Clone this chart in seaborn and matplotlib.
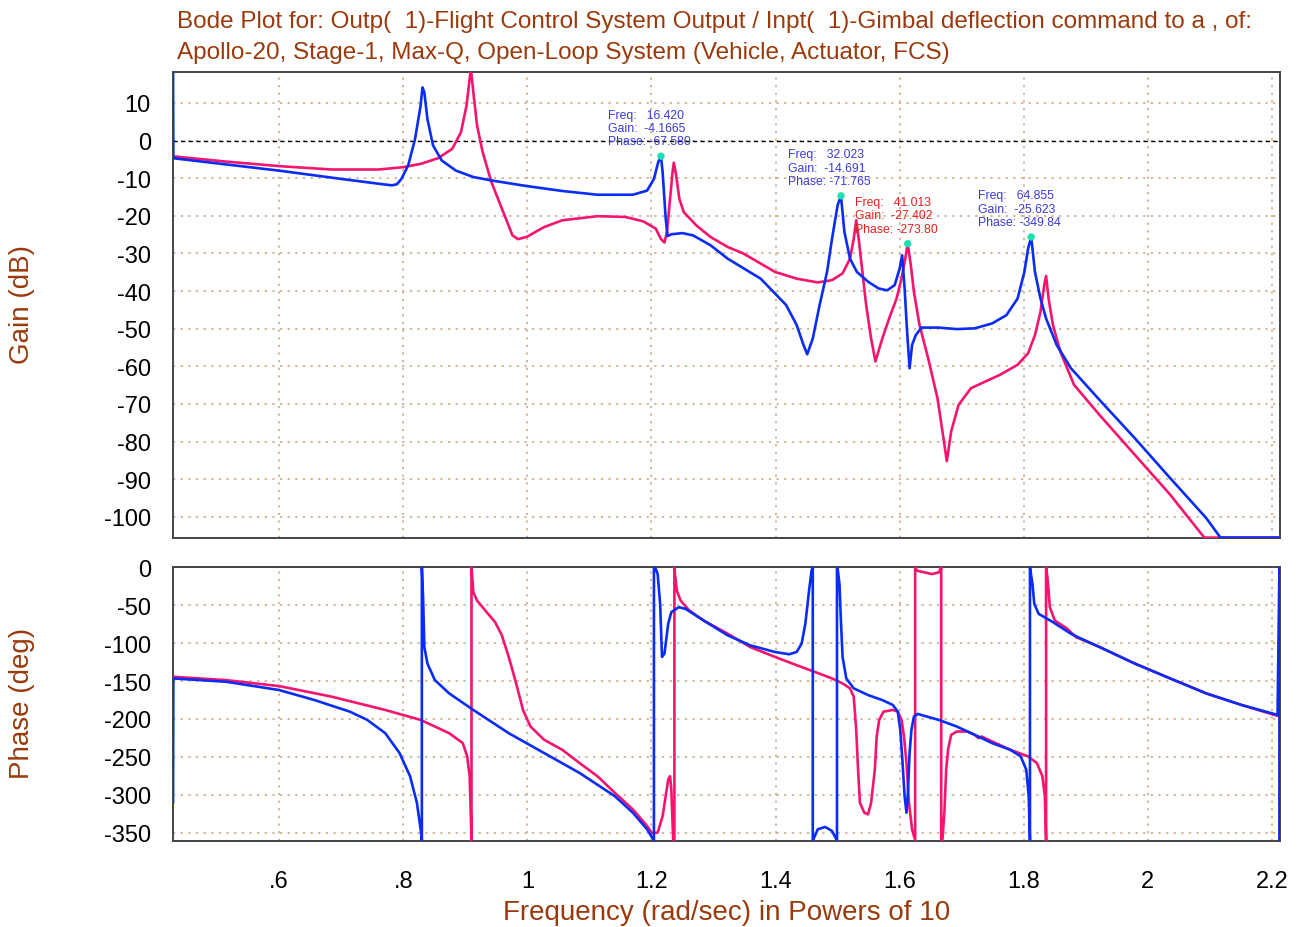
import matplotlib
matplotlib.use("Agg")
import matplotlib.pyplot as plt
import numpy as np
import pandas as pd
import seaborn as sns

# ---------------- data (x = log10 of frequency in rad/sec) ----------------
blue_gain_x = [0.429, 0.4295, 0.600, 0.700, 0.771, 0.782, 0.790, 0.797, 0.808, 0.819, 0.828, 0.831,
               0.834, 0.839, 0.848, 0.862, 0.885, 0.913, 0.942, 0.999, 1.056, 1.113,
               1.170, 1.193, 1.204, 1.211, 1.2154, 1.218, 1.223, 1.226, 1.232, 1.250,
               1.267, 1.295, 1.323, 1.376, 1.417, 1.434, 1.445, 1.451, 1.460, 1.471,
               1.483, 1.491, 1.500, 1.5054, 1.511, 1.520, 1.531, 1.549, 1.566, 1.580,
               1.592, 1.600, 1.604, 1.608, 1.612, 1.616, 1.620, 1.626, 1.635, 1.663,
               1.692, 1.721, 1.749, 1.772, 1.790, 1.801, 1.807, 1.8119, 1.814, 1.818,
               1.827, 1.836, 1.853, 1.876, 1.922, 1.979, 2.036, 2.094, 2.117, 2.213]
blue_gain_db = [20, -4.7, -8.0, -10.2, -11.7, -11.9, -11.6, -10.2, -6.6, 0.4, 9.3, 14.1,
                12.8, 5.7, -1.3, -5.3, -8.0, -9.7, -10.6, -12.1, -13.4, -14.4,
                -14.4, -13.3, -10.2, -5.7, -4.17, -8.4, -20.8, -25.4, -24.9, -24.6,
                -25.2, -27.8, -31.4, -36.7, -43.7, -49.0, -54.3, -56.8, -52.6, -43.7,
                -34.9, -26.1, -17.2, -14.69, -24.3, -31.4, -34.9, -37.5, -39.3, -39.8,
                -38.4, -34.0, -30.5, -39.3, -50.8, -60.5, -54.3, -51.7, -49.7, -49.7,
                -50.1, -49.9, -48.6, -46.4, -42.0, -34.9, -28.7, -25.62, -28.7, -34.9,
                -42.0, -47.3, -54.3, -60.5, -68.9, -79.1, -89.7, -100.3, -105.5, -105.5]

pink_gain_x = [0.429, 0.515, 0.600, 0.685, 0.760, 0.799, 0.828, 0.856, 0.879, 0.893,
               0.902, 0.907, 0.909, 0.913, 0.919, 0.928, 0.942, 0.959, 0.976, 0.985,
               0.999, 1.027, 1.056, 1.113, 1.158, 1.187, 1.207, 1.215, 1.221, 1.225,
               1.230, 1.234, 1.236, 1.239, 1.245, 1.252, 1.272, 1.295, 1.323, 1.348,
               1.399, 1.434, 1.468, 1.491, 1.508, 1.520, 1.526, 1.530, 1.534, 1.540,
               1.546, 1.554, 1.561, 1.572, 1.583, 1.595, 1.603, 1.609, 1.6129, 1.618,
               1.623, 1.632, 1.646, 1.661, 1.669, 1.676, 1.683, 1.695, 1.715, 1.732,
               1.761, 1.790, 1.807, 1.818, 1.827, 1.833, 1.836, 1.840, 1.847, 1.859,
               1.881, 1.922, 1.979, 2.036, 2.091, 2.213]
pink_gain_db = [-4.2, -5.6, -6.8, -7.7, -7.7, -7.1, -6.2, -4.7, -2.2, 2.2,
                9.3, 16.3, 19.0, 12.8, 4.0, -3.1, -11.0, -18.1, -25.2, -26.2,
                -25.6, -23.0, -21.2, -20.1, -20.3, -21.5, -23.4, -26.1, -27.1, -24.3,
                -15.5, -8.4, -5.9, -8.4, -15.5, -19.0, -22.5, -25.6, -28.3, -30.0,
                -34.9, -36.7, -37.7, -37.1, -35.3, -31.4, -26.1, -21.2, -26.1, -34.9,
                -43.7, -52.6, -58.7, -52.6, -47.3, -42.0, -36.7, -31.4, -27.40, -33.1,
                -40.2, -49.0, -57.9, -68.5, -77.3, -85.2, -77.3, -70.2, -65.8, -64.5,
                -62.3, -59.6, -56.5, -51.7, -45.5, -38.4, -36.0, -42.0, -49.0, -56.1,
                -64.9, -72.9, -83.5, -94.1, -105.5, -105.5]

blue_phase_x = [0.429, 0.4295, 0.515, 0.600, 0.657, 0.714, 0.742, 0.771, 0.794, 0.811,
                0.822, 0.828, 0.830, 0.830, 0.832, 0.834, 0.839, 0.851, 0.874, 0.913,
                0.970, 1.027, 1.084, 1.141, 1.170, 1.193, 1.201, 1.204, 1.204, 1.207,
                1.210, 1.214, 1.217, 1.221, 1.227, 1.232, 1.244, 1.255, 1.284, 1.323,
                1.359, 1.399, 1.422, 1.434, 1.442, 1.448, 1.454, 1.458, 1.460, 1.460,
                1.461, 1.468, 1.480, 1.491, 1.498, 1.499, 1.499, 1.500, 1.503, 1.5054,
                1.508, 1.514, 1.526, 1.549, 1.572, 1.589, 1.597, 1.601, 1.604, 1.608,
                1.611, 1.613, 1.616, 1.619, 1.623, 1.629, 1.640, 1.663, 1.692, 1.721,
                1.749, 1.778, 1.795, 1.804, 1.808, 1.810, 1.810, 1.814, 1.817, 1.824,
                1.847, 1.876, 1.887, 1.922, 1.979, 2.036, 2.094, 2.151, 2.209, 2.212,
                2.212]
blue_phase_deg = [-311, -146.6, -151.0, -161.9, -175.1, -190.4, -201.3, -218.8, -245.0, -275.6,
                  -310.6, -345.6, -360, 0, -40, -105, -127, -148.8, -166.3, -188.2,
                  -218.8, -245.0, -271.2, -301.9, -323.7, -345.6, -356.5, -360, 0, -2,
                  -8.9, -48.3, -118.2, -113.8, -74.5, -59.2, -52.6, -54.8, -70.1, -89.8,
                  -102.9, -111.7, -114.7, -111.7, -100.7, -74.5, -30.8, -4.5, 0, -360,
                  -358.7, -345.6, -342.5, -347.8, -358.7, -360, 0, -1, -22, -71.8,
                  -118.2, -146.6, -159.7, -168.5, -175.1, -181.6, -190.4, -214.4, -249.4, -301.9,
                  -323.7, -301.9, -245.0, -214.4, -196.9, -193.4, -196.0, -201.3, -210.0, -221.0,
                  -231.9, -240.6, -249.4, -266.9, -301.9, -360, 0, -22, -48.3, -61.4,
                  -72.3, -87.6, -92.0, -105.1, -127.0, -146.6, -166.3, -181.6, -194.7, 0,
                  -360]

pink_phase_x = [0.429, 0.515, 0.600, 0.685, 0.771, 0.828, 0.874, 0.896, 0.903, 0.907,
                0.908, 0.910, 0.910, 0.912, 0.913, 0.919, 0.930, 0.948, 0.959, 0.970,
                0.982, 0.993, 1.005, 1.027, 1.056, 1.084, 1.113, 1.141, 1.170, 1.193,
                1.201, 1.210, 1.218, 1.227, 1.230, 1.232, 1.235, 1.237, 1.237, 1.238,
                1.241, 1.247, 1.261, 1.284, 1.323, 1.359, 1.399, 1.434, 1.463, 1.491,
                1.508, 1.520, 1.526, 1.530, 1.533, 1.536, 1.543, 1.549, 1.554, 1.560,
                1.563, 1.567, 1.574, 1.589, 1.597, 1.603, 1.607, 1.611, 1.615, 1.620,
                1.625, 1.625, 1.628, 1.640, 1.652, 1.663, 1.667, 1.667, 1.669, 1.672,
                1.675, 1.678, 1.683, 1.692, 1.709, 1.721, 1.727, 1.732, 1.749, 1.778,
                1.807, 1.821, 1.830, 1.834, 1.836, 1.836, 1.838, 1.840, 1.842, 1.850,
                1.870, 1.884, 1.922, 1.979, 2.036, 2.094, 2.151, 2.209]
pink_phase_deg = [-144.4, -148.8, -156.7, -170.7, -188.2, -201.3, -218.8, -231.9, -249.4, -275.6,
                  -301.9, -360, 0, -22, -33, -43.9, -54.8, -72.3, -89.8, -118.2,
                  -153.2, -188.2, -210.0, -227.5, -240.6, -258.1, -275.6, -297.5, -319.3, -341.2,
                  -350.8, -350.0, -328.1, -280.0, -275.6, -293.1, -358.7, -360, 0, -10,
                  -30.8, -43.9, -57.0, -70.1, -87.6, -105.1, -118.2, -129.1, -137.9, -146.6,
                  -153.2, -159.7, -170.7, -214.4, -266.9, -310.6, -323.7, -325.9, -310.6, -266.9,
                  -223.2, -201.3, -190.4, -188.2, -190.4, -201.3, -223.2, -258.1, -310.6, -345.6,
                  -360, 0, -4.5, -6.7, -8.9, -6.7, 0, -360, -358.7, -323.7,
                  -266.9, -240.6, -221.0, -216.6, -216.6, -221.0, -225.3, -223.2, -229.7, -240.6,
                  -249.4, -258.1, -275.6, -301.9, -360, 0, -12, -30.8, -52.6, -70.1,
                  -81.0, -92.0, -105.1, -127.0, -146.6, -166.3, -181.6, -196.0]

marker_freq = [16.420, 32.023, 41.013, 64.855]
marker_gain = [-4.1665, -14.691, -27.402, -25.623]
marker_phase = [-67.580, -71.765, -273.80, -349.84]
marker_series = ["blue", "blue", "pink", "blue"]

gain_ticks = [10, 0, -10, -20, -30, -40, -50, -60, -70, -80, -90, -100]
phase_ticks = [0, -50, -100, -150, -200, -250, -300, -350]
x_ticks = [0.6, 0.8, 1.0, 1.2, 1.4, 1.6, 1.8, 2.0, 2.2]
x_tick_labels = [".6", ".8", "1", "1.2", "1.4", "1.6", "1.8", "2", "2.2"]

title_lines = ["Bode Plot for: Outp(  1)-Flight Control System Output / Inpt(  1)-Gimbal deflection command to a , of:",
               "Apollo-20, Stage-1, Max-Q, Open-Loop System (Vehicle, Actuator, FCS)"]

# ---------------- style ----------------
sns.set_theme(style="white")
plt.rcParams["font.family"] = ["Liberation Sans", "DejaVu Sans"]

BLUE = "#0a2cf5"
PINK = "#f5156e"
BROWN = "#9a3a0c"
GRID = "#c4a684"
palette = {"pink": PINK, "blue": BLUE}
text_col = {"blue": "#3a3ad8", "pink": "#e2231a"}

fig = plt.figure(figsize=(12.99, 9.28), dpi=100)
ax1 = fig.add_axes([0.1332, 0.4192, 0.8522, 0.5021])
ax2 = fig.add_axes([0.1332, 0.0927, 0.8522, 0.2953])

df_gain = pd.concat([
    pd.DataFrame({"logf": pink_gain_x, "val": pink_gain_db, "series": "pink"}),
    pd.DataFrame({"logf": blue_gain_x, "val": blue_gain_db, "series": "blue"}),
], ignore_index=True)
df_phase = pd.concat([
    pd.DataFrame({"logf": pink_phase_x, "val": pink_phase_deg, "series": "pink"}),
    pd.DataFrame({"logf": blue_phase_x, "val": blue_phase_deg, "series": "blue"}),
], ignore_index=True)

for ax, df in ((ax1, df_gain), (ax2, df_phase)):
    sns.lineplot(data=df, x="logf", y="val", hue="series", hue_order=["pink", "blue"],
                 palette=palette, sort=False, estimator=None, legend=False,
                 linewidth=1.9, ax=ax, zorder=3)
    ax.set_xlim(0.429, 2.213)
    ax.set_xticks(x_ticks)
    ax.set_xlabel("")
    ax.set_ylabel("")
    ax.grid(True, linestyle=(0, (1.5, 3.5)), color=GRID, linewidth=1.1, zorder=0)
    ax.tick_params(axis="y", direction="in", length=14, width=1.2, color="black",
                   labelsize=17, pad=16, labelcolor="black")
    ax.tick_params(axis="x", direction="in", length=5, width=1.2, color="black",
                   labelsize=17, pad=21, labelcolor="black")
    for s in ax.spines.values():
        s.set_color("#444444")
        s.set_linewidth(1.4)
        s.set_visible(True)

ax1.set_ylim(-105.6, 18.2)
ax1.set_yticks(gain_ticks)
ax1.set_yticklabels([str(t) for t in gain_ticks])
ax1.tick_params(axis="x", labelbottom=False)
ax1.axhline(0, color="black", linestyle=(0, (3, 2.5)), linewidth=1.0, zorder=2)

ax2.set_ylim(-361, 0.5)
ax2.set_yticks(phase_ticks)
ax2.set_yticklabels([str(t) for t in phase_ticks])
ax2.set_xticklabels(x_tick_labels)

# peak markers and readouts
for f, g, p, s in zip(marker_freq, marker_gain, marker_phase, marker_series):
    lf = np.log10(f)
    ax1.scatter([lf], [g], s=28, color="#1ee0b0", zorder=5, edgecolor="none")
    txt = "Freq:   {:#.5g}\nGain:  {:#.5g}\nPhase: {:#.5g}".format(f, g, p)
    ax1.text(lf - 0.085, g + 7.5, txt, fontsize=8.8, color=text_col[s],
             ha="left", va="center", linespacing=1.15, zorder=6)

# titles and axis labels
fig.text(0.1363, 1 - 22 / 928, title_lines[0], fontsize=17.5, color=BROWN, ha="left", va="center")
fig.text(0.1363, 1 - 53 / 928, title_lines[1], fontsize=17.5, color=BROWN, ha="left", va="center")
fig.text(0.017, 1 - 305 / 928, "Gain (dB)", fontsize=20, color=BROWN, rotation=90,
         ha="center", va="center")
fig.text(0.017, 1 - 703 / 928, "Phase (deg)", fontsize=20, color=BROWN, rotation=90,
         ha="center", va="center")
fig.text(0.5596, 1 - 913 / 928, "Frequency (rad/sec) in Powers of 10", fontsize=20,
         color=BROWN, ha="center", va="center")

fig.savefig("out.png", dpi=100, facecolor="white")
